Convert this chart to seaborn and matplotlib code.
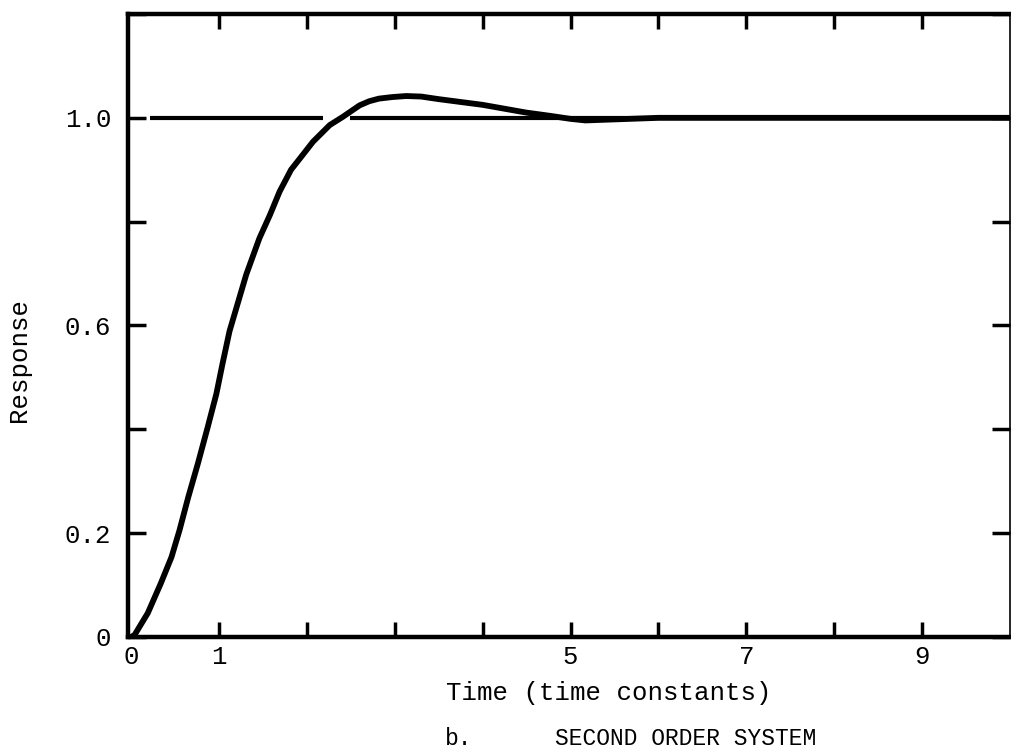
import matplotlib
matplotlib.use("Agg")
import matplotlib.pyplot as plt
import seaborn as sns
import pandas as pd

# ---- data ----
time = [0.0, 0.04, 0.19, 0.34, 0.46, 0.55, 0.65, 0.76, 0.87, 0.97, 1.04, 1.12,
        1.31, 1.46, 1.58, 1.69, 1.82, 1.95, 2.07, 2.26, 2.41, 2.60, 2.71, 2.82,
        2.97, 3.13, 3.30, 3.50, 4.0, 4.2, 4.5, 4.76, 5.0, 5.17, 5.5, 6.0, 10.0]
response = [0.0, 0.004, 0.046, 0.104, 0.154, 0.205, 0.269, 0.334, 0.403, 0.468,
            0.526, 0.589, 0.698, 0.768, 0.813, 0.858, 0.900, 0.928, 0.954, 0.986,
            1.002, 1.024, 1.032, 1.037, 1.040, 1.042, 1.041, 1.036, 1.025, 1.019,
            1.010, 1.004, 0.998, 0.995, 0.997, 1.0, 1.0]
ref_level = 1.0
ref_starts = [0.22, 2.49]
ref_ends = [2.18, 10.0]

x_ticks = [0, 1, 2, 3, 4, 5, 6, 7, 8, 9]
x_tick_labels = ["0", "1", "", "", "", "5", "", "7", "", "9"]
y_ticks = [0.0, 0.2, 0.4, 0.6, 0.8, 1.0, 1.2]
y_tick_labels = ["0", "0.2", "", "0.6", "", "1.0", ""]

sns.set_theme(style="white")
plt.rcParams['font.family'] = ['Liberation Mono', 'DejaVu Sans Mono']

fig = plt.figure(figsize=(10.11, 7.51), dpi=100)
ax = fig.add_axes([128 / 1011, 1 - 637 / 751, 882 / 1011, 623 / 751])

df = pd.DataFrame({"Time": time, "Response": response})
sns.lineplot(data=df, x="Time", y="Response", ax=ax, color="black",
             linewidth=4.2, sort=False, estimator=None)
ax.lines[-1].set_solid_joinstyle("round")
ax.lines[-1].set_solid_capstyle("round")

for s, e in zip(ref_starts, ref_ends):
    ax.hlines(ref_level, s, e, color="black", linewidth=3.0)

ax.set_xlim(-0.035, 10.0)
ax.set_ylim(0, 1.2)

ax.set_xticks(x_ticks)
ax.set_xticklabels(x_tick_labels)
ax.set_yticks(y_ticks)
ax.set_yticklabels(y_tick_labels)
ax.tick_params(axis="both", direction="in", width=2.5, color="black",
               labelsize=18.5, labelcolor="black")
ax.tick_params(axis="x", top=True, bottom=True, pad=6, length=11)
ax.tick_params(axis="y", left=True, right=True, pad=12, length=13)

# the origin tick carries only its label
t0 = ax.xaxis.get_major_ticks()[0]
t0.tick1line.set_visible(False)
t0.tick2line.set_visible(False)

for side, sp in ax.spines.items():
    sp.set_color("black")
    sp.set_linewidth(3.2)
ax.spines["right"].set_linewidth(1.2)

ax.set_xlabel("Time (time constants)", fontsize=18.5, color="black")
ax.xaxis.set_label_coords(0.545, -0.07)
ax.set_ylabel("Response", fontsize=18.5, color="black")
ax.yaxis.set_label_coords(-0.11, 0.444)

fig.text(445 / 1011, 1 - 745 / 751, "b.", fontsize=16.5,
         ha="left", va="baseline", color="black")
fig.text(555 / 1011, 1 - 745 / 751, "SECOND ORDER SYSTEM", fontsize=16.5,
         ha="left", va="baseline", color="black")

fig.savefig("out.png", dpi=100, facecolor="white")
